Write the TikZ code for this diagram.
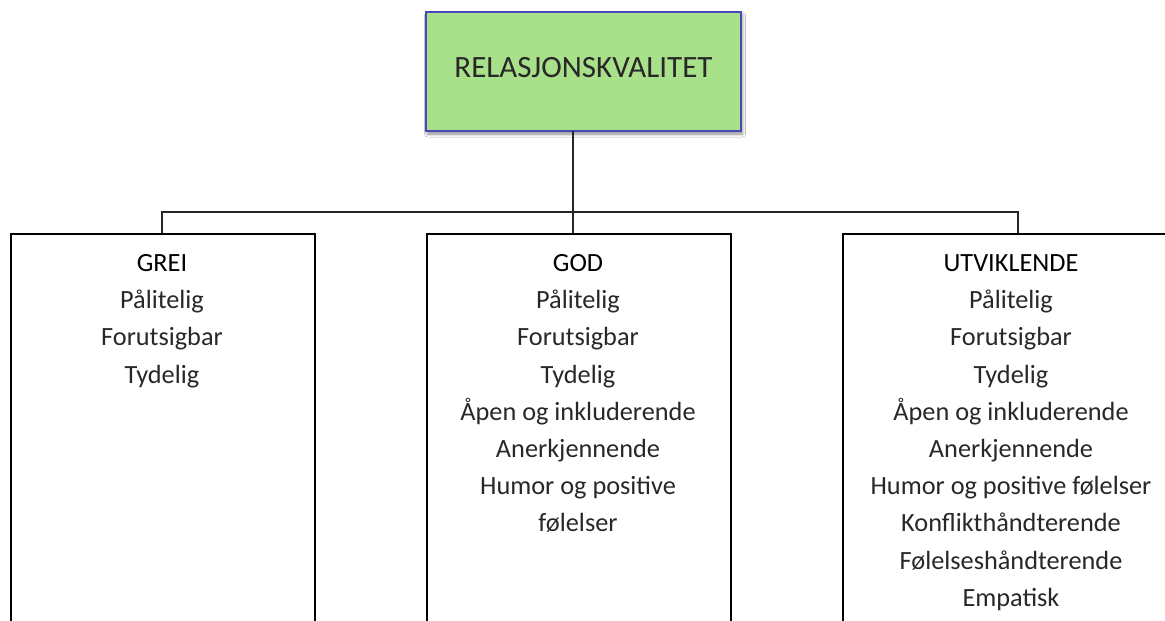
\documentclass[tikz,border=0pt]{standalone}
\usepackage{fontspec}
\setmainfont{Carlito}
\usetikzlibrary{shadows.blur}
\definecolor{topfill}{RGB}{169,224,138}
\definecolor{topdraw}{RGB}{72,72,184}
\definecolor{bodytext}{RGB}{40,40,40}
\begin{document}
\begin{tikzpicture}[x=1pt,y=-1pt,
  topbox/.style={draw=topdraw,line width=1.6pt,fill=topfill,minimum width=315pt,minimum height=119pt,inner sep=0pt,
    blur shadow={shadow xshift=1.5pt,shadow yshift=-3pt,shadow blur radius=3pt,shadow opacity=45}},
  levelbox/.style={draw=black,line width=1.5pt,fill=white,inner sep=0pt,anchor=north west},
  boxtext/.style={align=center,anchor=base,inner sep=0pt,text=bodytext,font=\fontsize{26.3}{37.2}\selectfont},
  conn/.style={draw=black!85,line width=1.5pt}]
\useasboundingbox (0,0) rectangle (1165,621);
\clip (0,0) rectangle (1165,621);
\fill[white] (0,0) rectangle (1165,621);
% top box
\node[topbox] (top) at (583.5,71.5) {};
\node[font=\fontsize{31}{36}\selectfont,anchor=base,text=bodytext] (toptext) at (583.5,77.5) {RELASJONSKVALITET};
% level boxes
\node[levelbox,minimum width=304pt,minimum height=420pt] (grei) at (10,233) {};
\node[levelbox,minimum width=304pt,minimum height=420pt] (god) at (426,233) {};
\node[levelbox,minimum width=352pt,minimum height=420pt] (utv) at (842,233) {};
% connectors
\coordinate (bus) at (573,212);
\coordinate (cgrei) at (162,233);
\coordinate (cgod) at (573,233);
\coordinate (cutv) at (1018,233);
\coordinate (ctop) at (573,131);
\draw[conn] (ctop) -- (cgod);
\draw[conn] (cgrei) |- (bus) -| (cutv);
% texts (anchor base = baseline of last line)
\node[boxtext] (t1) at (162,383.1) {\textcolor{black}{GREI}\\Pålitelig\\Forutsigbar\\Tydelig};
\node[boxtext] (t2) at (578,531.9) {\textcolor{black}{GOD}\\Pålitelig\\Forutsigbar\\Tydelig\\Åpen og inkluderende\\Anerkjennende\\Humor og positive\\følelser};
\node[boxtext] (t3) at (1011,606.3) {\textcolor{black}{UTVIKLENDE}\\Pålitelig\\Forutsigbar\\Tydelig\\Åpen og inkluderende\\Anerkjennende\\Humor og positive følelser\\Konflikthåndterende\\Følelseshåndterende\\Empatisk};
\end{tikzpicture}
\end{document}
